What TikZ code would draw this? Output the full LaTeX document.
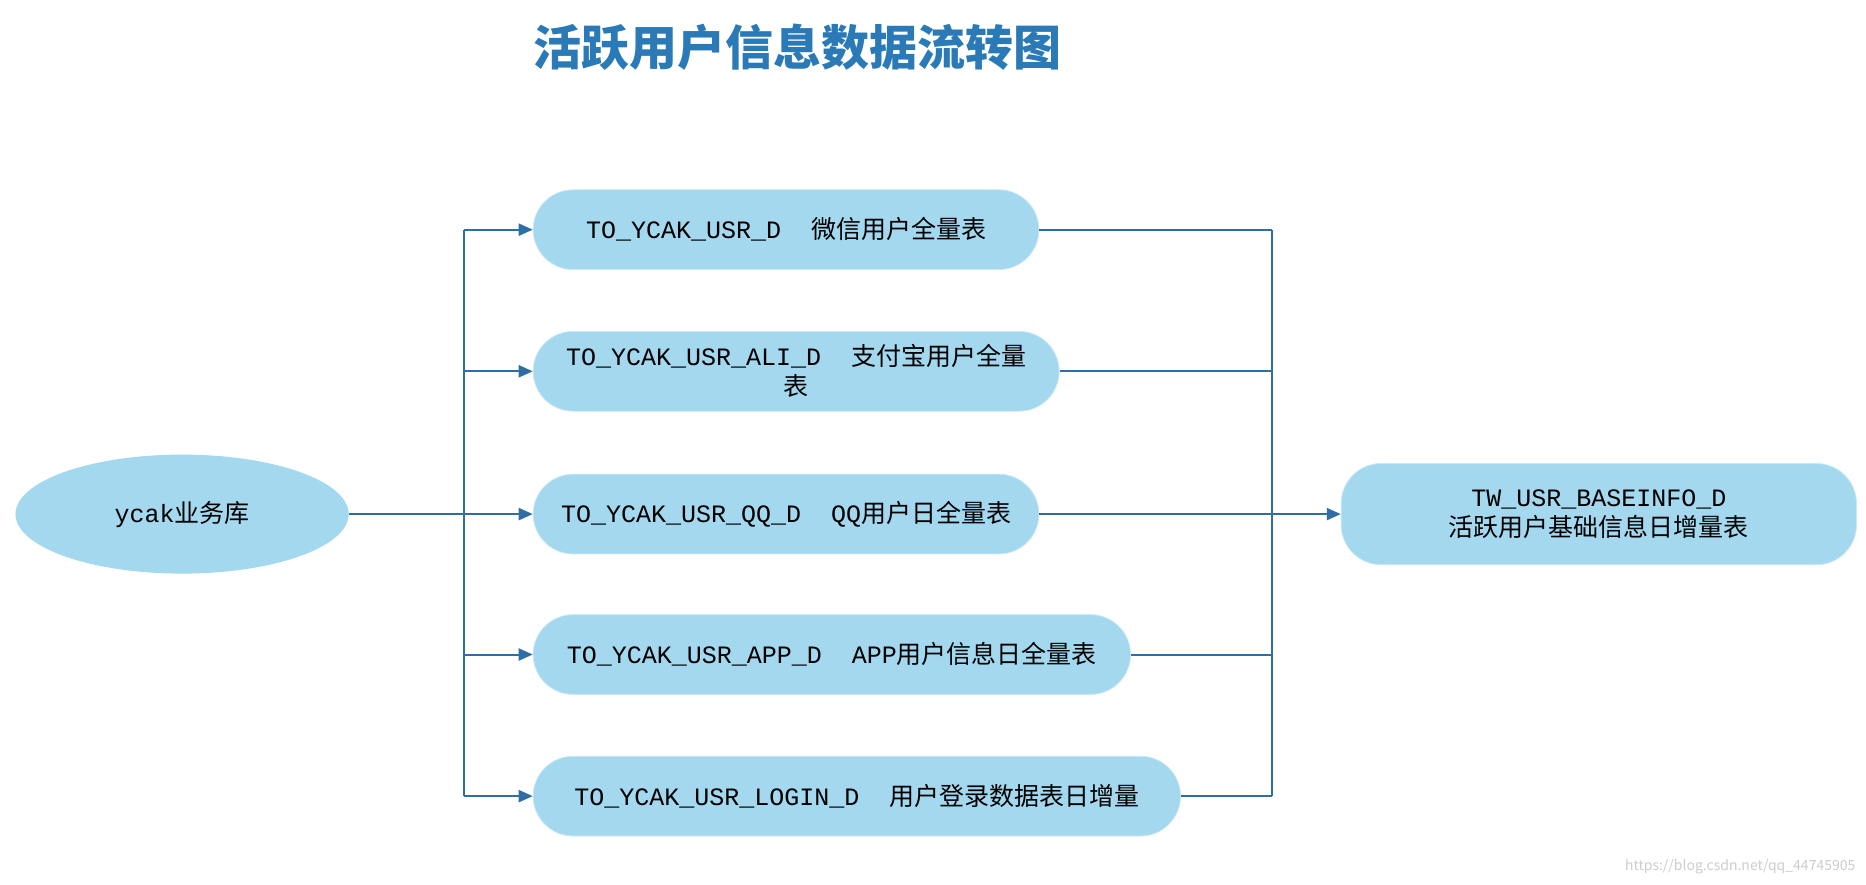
\documentclass[tikz,border=0pt]{standalone}
\usepackage{fontspec}
\setmainfont{Liberation Mono}
\newfontfamily\cjk{Noto Sans CJK SC}
\usetikzlibrary{arrows.meta,shapes.geometric}
\definecolor{boxfill}{HTML}{A3D8EF}
\definecolor{lineblue}{HTML}{2F6EA5}
\definecolor{titleblue}{HTML}{2A7AB8}
\begin{document}
\begin{tikzpicture}[x=0.595pt,y=-0.595pt,
  box/.style={draw=boxfill!60!white,fill=boxfill,rounded corners=20pt,font=\fontsize{12.5}{15}\selectfont,align=center,inner sep=0pt},
  conn/.style={draw=lineblue,line width=1pt},
  arr/.style={conn,-{Triangle[length=7pt,width=6pt]}}]
\useasboundingbox (0,0) rectangle (1568,743);
\node (title) at (670,40) {\cjk\bfseries\color{titleblue}\fontsize{24}{29}\selectfont 活跃用户信息数据流转图};
\node[ellipse,fill=boxfill,minimum width=280*0.595pt,minimum height=100*0.595pt,inner sep=0pt,font=\fontsize{12.5}{15}\selectfont] (src) at (153,432) {ycak{\cjk 业务库}};
\node[box,minimum width=425*0.595pt,minimum height=67*0.595pt] (b1) at (660.5,193) {TO\_YCAK\_USR\_D\ \ {\cjk 微信用户全量表}};
\node[box,minimum width=442*0.595pt,minimum height=67*0.595pt] (b2) at (669,312) {TO\_YCAK\_USR\_ALI\_D\ \ {\cjk 支付宝用户全量}\\{\cjk 表}};
\node[box,minimum width=425*0.595pt,minimum height=67*0.595pt] (b3) at (660.5,432) {TO\_YCAK\_USR\_QQ\_D\ \ QQ{\cjk 用户日全量表}};
\node[box,minimum width=502*0.595pt,minimum height=67*0.595pt] (b4) at (699,550) {TO\_YCAK\_USR\_APP\_D\ \ APP{\cjk 用户信息日全量表}};
\node[box,minimum width=544*0.595pt,minimum height=67*0.595pt] (b5) at (720,669) {TO\_YCAK\_USR\_LOGIN\_D\ \ {\cjk 用户登录数据表日增量}};
\node[box,minimum width=433*0.595pt,minimum height=85*0.595pt] (dst) at (1343.5,432) {TW\_USR\_BASEINFO\_D\\{\cjk 活跃用户基础信息日增量表}};
\coordinate (lt) at (390,193);
\coordinate (lb) at (390,669);
\coordinate (rt) at (1069,193);
\coordinate (rb) at (1069,669);
\draw[conn] (lt) -- (lb);
\draw[conn] (rt) -- (rb);
\draw[conn] (src.east) -- (390,432);
\foreach \b in {b1,b2,b3,b4,b5}{
  \draw[arr] (lt |- \b.west) -- (\b.west);
  \draw[conn] (\b.east) -- (rt |- \b.east);
}
\draw[arr] (1069,432) -- (dst.west);
\node[anchor=south east,text=gray!40,font=\cjk\fontsize{7}{8}\selectfont] (wm) at (1565,740) {https://blog.csdn.net/qq\_44745905};
\end{tikzpicture}
\end{document}
